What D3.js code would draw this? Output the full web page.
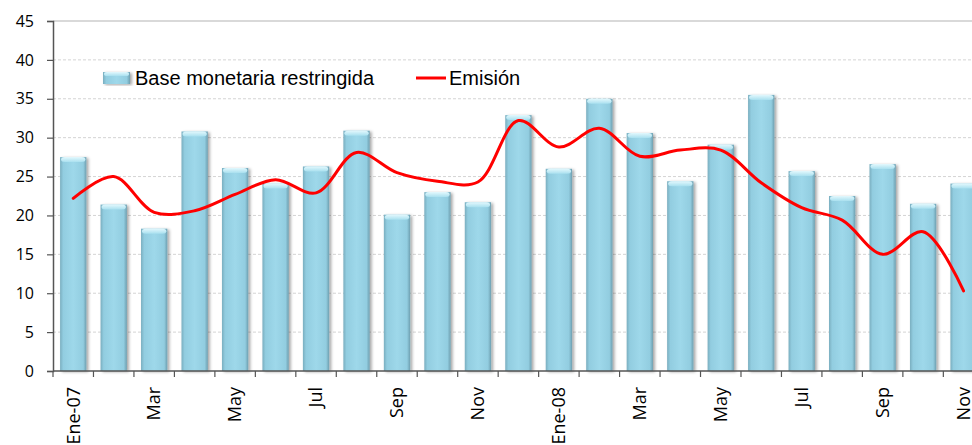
<!DOCTYPE html>
<html>
<head>
<meta charset="utf-8">
<script src="https://cdn.jsdelivr.net/npm/d3@7"></script>
<style>
  body { margin: 0; background: #fff; }
  svg { display: block; }
</style>
</head>
<body>
<svg id="chart" width="972" height="445"></svg>
<script>
const months = ["Ene-07", "Feb-07", "Mar-07", "Abr-07", "May-07", "Jun-07", "Jul-07", "Ago-07", "Sep-07", "Oct-07", "Nov-07", "Dic-07",
  "Ene-08", "Feb-08", "Mar-08", "Abr-08", "May-08", "Jun-08", "Jul-08", "Ago-08", "Sep-08", "Oct-08", "Nov-08"];
const tickLabels = ["Ene-07", "", "Mar", "", "May", "", "Jul", "", "Sep", "", "Nov", "",
  "Ene-08", "", "Mar", "", "May", "", "Jul", "", "Sep", "", "Nov"];
const baseMonetaria = [27.5, 21.4, 18.3, 30.8, 26.1, 24.1, 26.3, 30.9, 20.1, 23.0, 21.7, 32.9,
  26.0, 35.0, 30.6, 24.4, 29.1, 35.5, 25.7, 22.5, 26.6, 21.5, 24.1];
const emision = [22.2, 25.0, 20.4, 20.6, 22.7, 24.6, 22.9, 28.1, 25.5, 24.4, 24.3, 32.2,
  28.8, 31.2, 27.6, 28.4, 28.4, 24.2, 21.0, 19.4, 15.0, 17.9, 10.3];
const yTicks = [0, 5, 10, 15, 20, 25, 30, 35, 40, 45];

const svg = d3.select("#chart");
const mLeft = 53, mTop = 21, mBottom = 371;
const mRight = mLeft + 23 * 40.47;

const x = d3.scaleBand().domain(months).range([mLeft, mRight]).paddingInner(0.35).paddingOuter(0.175);
const y = d3.scaleLinear().domain([0, 45]).range([mBottom, mTop]);
const step = x.step();
const cx = d => x(d) + x.bandwidth() / 2;

const defs = svg.append("defs");
const grad = defs.append("linearGradient").attr("id", "barGrad").attr("x1", 0).attr("x2", 1).attr("y1", 0).attr("y2", 0);
grad.append("stop").attr("offset", "0%").attr("stop-color", "#7aaebf");
grad.append("stop").attr("offset", "12%").attr("stop-color", "#92cde0");
grad.append("stop").attr("offset", "50%").attr("stop-color", "#9ed8ea");
grad.append("stop").attr("offset", "88%").attr("stop-color", "#92cde0");
grad.append("stop").attr("offset", "100%").attr("stop-color", "#6e9fb0");
const capGrad = defs.append("linearGradient").attr("id", "capGrad").attr("x1", 0).attr("x2", 0).attr("y1", 0).attr("y2", 1);
capGrad.append("stop").attr("offset", "0%").attr("stop-color", "#e3f8fd");
capGrad.append("stop").attr("offset", "100%").attr("stop-color", "#a9e0ef");
const shadow = defs.append("filter").attr("id", "shadow").attr("x", "-30%").attr("y", "-10%").attr("width", "160%").attr("height", "120%");
shadow.append("feDropShadow").attr("dx", 2).attr("dy", 1).attr("stdDeviation", 1.5).attr("flood-color", "#000").attr("flood-opacity", 0.35);

// gridlines
svg.append("g").selectAll("line")
  .data(yTicks.filter(t => t > 0 && t < 45))
  .join("line")
  .attr("x1", mLeft).attr("x2", 972)
  .attr("y1", d => y(d)).attr("y2", d => y(d))
  .attr("stroke", "#d4d4d4").attr("stroke-dasharray", "3,2");
svg.append("line").attr("x1", mLeft).attr("x2", 972).attr("y1", y(45)).attr("y2", y(45))
  .attr("stroke", "#b4b4b4").attr("stroke-width", 1.2);

// bars
const bars = svg.append("g").selectAll("g").data(months).join("g").attr("filter", "url(#shadow)");
bars.append("rect")
  .attr("x", d => x(d))
  .attr("y", (d, i) => y(baseMonetaria[i]))
  .attr("width", x.bandwidth())
  .attr("height", (d, i) => mBottom - y(baseMonetaria[i]))
  .attr("fill", "url(#barGrad)");
bars.append("rect")
  .attr("x", d => x(d) + 1)
  .attr("y", (d, i) => y(baseMonetaria[i]))
  .attr("width", x.bandwidth() - 2)
  .attr("height", 5)
  .attr("rx", 4).attr("ry", 2.5)
  .attr("fill", "url(#capGrad)");

// axes
const yAxis = svg.append("g").attr("transform", `translate(${mLeft},0)`)
  .call(d3.axisLeft(y).tickValues(yTicks).tickSize(6).tickPadding(13));
yAxis.select(".domain").attr("stroke", "#555").attr("stroke-width", 1.5);
yAxis.selectAll(".tick line").attr("stroke", "#555").attr("stroke-width", 1.2);
yAxis.selectAll("text").attr("font-family", "'Open Sans', 'Noto Sans', sans-serif").attr("font-size", 16).attr("fill", "#000");

const xAxis = svg.append("g").attr("transform", `translate(0,${mBottom})`);
xAxis.append("line").attr("x1", mLeft).attr("x2", 972).attr("stroke", "#555").attr("stroke-width", 1.5);
xAxis.selectAll("line.tick").data(d3.range(24)).join("line")
  .attr("class", "tick")
  .attr("x1", i => mLeft + i * step).attr("x2", i => mLeft + i * step)
  .attr("y1", 0).attr("y2", 6)
  .attr("stroke", "#555").attr("stroke-width", 1.2);
xAxis.selectAll("text").data(months.filter((d, i) => tickLabels[i])).join("text")
  .attr("transform", d => `translate(${cx(d)},16) rotate(-90)`)
  .attr("text-anchor", "end")
  .attr("dy", "0.35em")
  .attr("font-family", "'Open Sans', 'Noto Sans', sans-serif")
  .attr("font-size", 18)
  .text(d => tickLabels[months.indexOf(d)]);

// line
const line = d3.line()
  .x((d, i) => cx(months[i]))
  .y(d => y(d))
  .curve(d3.curveCatmullRom.alpha(0.5));
svg.append("path")
  .datum(emision)
  .attr("d", line)
  .attr("fill", "none")
  .attr("stroke", "#ff0000")
  .attr("stroke-width", 3)
  .attr("stroke-linecap", "round");

// legend
const legend = svg.append("g").attr("font-family", "Arial, 'Liberation Sans', sans-serif").attr("font-size", 20);
legend.append("rect").attr("x", 103).attr("y", 72).attr("width", 27).attr("height", 12)
  .attr("fill", "url(#barGrad)").attr("filter", "url(#shadow)");
legend.append("rect").attr("x", 104).attr("y", 72).attr("width", 25).attr("height", 4).attr("rx", 3)
  .attr("fill", "url(#capGrad)");
legend.append("text").attr("x", 135).attr("y", 85).text("Base monetaria restringida");
legend.append("line").attr("x1", 416).attr("x2", 446).attr("y1", 78).attr("y2", 78)
  .attr("stroke", "#ff0000").attr("stroke-width", 3);
legend.append("text").attr("x", 449).attr("y", 85).text("Emisión");
</script>
</body>
</html>
